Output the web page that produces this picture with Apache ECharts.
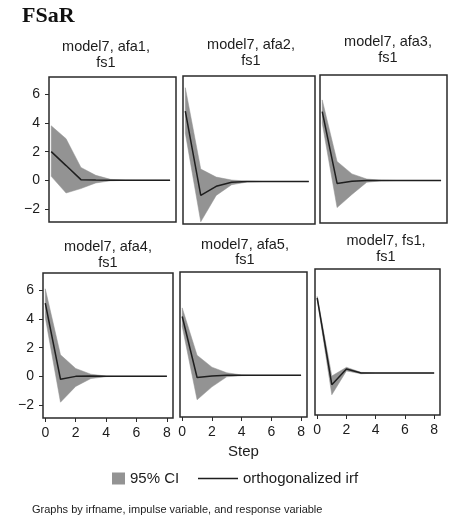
<!DOCTYPE html>
<html>
<head>
<meta charset="utf-8">
<script src="https://cdn.jsdelivr.net/npm/echarts@6/dist/echarts.min.js"></script>
<style>html,body{margin:0;padding:0;background:#fff}#c{width:449px;height:521px}</style>
</head>
<body>
<div id="c"></div>
<script>
const steps = [0, 1, 2, 3, 4, 5, 6, 7, 8];
const yTicks = [-2, 0, 2, 4, 6];
const xTicks = [0, 2, 4, 6, 8];

const panelTitles = [
  ['model7, afa1,', 'fs1'],
  ['model7, afa2,', 'fs1'],
  ['model7, afa3,', 'fs1'],
  ['model7, afa4,', 'fs1'],
  ['model7, afa5,', 'fs1'],
  ['model7, fs1,', 'fs1']
];

const irf_afa1 = [2.0, 1.03, 0.05, 0.02, 0.01, 0.01, 0.01, 0.01, 0.01];
const lo_afa1  = [0.28, -0.88, -0.57, -0.18, -0.03, 0.0, 0.0, 0.0, 0.0];
const hi_afa1  = [3.8, 2.9, 0.9, 0.35, 0.07, 0.02, 0.01, 0.01, 0.01];

const irf_afa2 = [4.8, -0.95, -0.33, -0.05, 0.0, 0.0, 0.0, 0.0, 0.0];
const lo_afa2  = [3.3, -2.75, -0.95, -0.22, -0.04, 0.0, 0.0, 0.0, 0.0];
const hi_afa2  = [6.4, 0.85, 0.3, 0.1, 0.03, 0.0, 0.0, 0.0, 0.0];

const irf_afa3 = [4.7, -0.2, -0.05, 0.0, 0.0, 0.0, 0.0, 0.0, 0.0];
const lo_afa3  = [3.9, -1.85, -0.95, -0.12, -0.02, 0.0, 0.0, 0.0, 0.0];
const hi_afa3  = [5.5, 1.3, 0.45, 0.1, 0.02, 0.0, 0.0, 0.0, 0.0];

const irf_afa4 = [5.1, -0.2, 0.0, 0.02, 0.0, 0.0, 0.0, 0.0, 0.0];
const lo_afa4  = [4.1, -1.8, -0.7, -0.15, -0.02, 0.0, 0.0, 0.0, 0.0];
const hi_afa4  = [6.1, 1.5, 0.55, 0.15, 0.02, 0.0, 0.0, 0.0, 0.0];

const irf_afa5 = [4.1, -0.15, -0.05, 0.0, 0.0, 0.0, 0.0, 0.0, 0.0];
const lo_afa5  = [3.4, -1.7, -0.8, -0.1, -0.02, 0.0, 0.0, 0.0, 0.0];
const hi_afa5  = [4.7, 1.4, 0.57, 0.18, 0.03, 0.0, 0.0, 0.0, 0.0];

const irf_fs1  = [5.2, -0.8, 0.28, 0.0, 0.0, 0.0, 0.0, 0.0, 0.0];
const lo_fs1   = [5.1, -1.5, 0.15, -0.05, 0.0, 0.0, 0.0, 0.0, 0.0];
const hi_fs1   = [5.3, -0.2, 0.4, 0.05, 0.0, 0.0, 0.0, 0.0, 0.0];

const irfs = [irf_afa1, irf_afa2, irf_afa3, irf_afa4, irf_afa5, irf_fs1];
const los  = [lo_afa1, lo_afa2, lo_afa3, lo_afa4, lo_afa5, lo_fs1];
const his  = [hi_afa1, hi_afa2, hi_afa3, hi_afa4, hi_afa5, hi_fs1];

// layout
const grids = [
  {left: 49,  top: 77, width: 127, height: 145},
  {left: 183, top: 76, width: 132, height: 148},
  {left: 320, top: 75, width: 127, height: 148},
  {left: 43,  top: 273, width: 130, height: 145},
  {left: 180, top: 272, width: 127, height: 145},
  {left: 315, top: 269, width: 125, height: 146}
];
const titlePos = [
  [106, 47, 63], [251, 45, 61], [388, 42, 58],
  [108, 247, 263], [245, 245, 260], [386, 241, 257]
];

const FONT = 'Liberation Sans, Arial, sans-serif';
const TXT = '#1c1c1c';
const BAND = '#939393';
const LINE = '#1e1e1e';

const option = {
  animation: false,
  backgroundColor: '#fff',
  grid: grids.map(g => Object.assign({show: true, borderColor: '#2a2a2a', borderWidth: 1.5, backgroundColor: 'transparent'}, g)),
  xAxis: grids.map((g, i) => ({
    type: 'value', gridIndex: i, min: -0.15, max: 8.4, position: 'bottom',
    axisLine: {show: false, onZero: false},
    splitLine: {show: false},
    axisTick: {show: i >= 3, length: 4, customValues: xTicks, lineStyle: {color: '#2a2a2a', width: 1}},
    axisLabel: {show: i >= 3, customValues: xTicks, margin: 8, fontSize: 14, color: TXT, fontFamily: FONT},
    name: i === 4 ? 'Step' : '',
    nameLocation: 'middle', nameGap: 27,
    nameTextStyle: {fontSize: 15, color: TXT, fontFamily: FONT}
  })),
  yAxis: grids.map((g, i) => ({
    type: 'value', gridIndex: i, min: -2.9, max: 7.2, position: 'left',
    axisLine: {show: false, onZero: false},
    splitLine: {show: false},
    axisTick: {show: i === 0 || i === 3, length: 4, customValues: yTicks, lineStyle: {color: '#2a2a2a', width: 1}},
    axisLabel: {show: i === 0 || i === 3, customValues: yTicks, margin: 9, fontSize: 14, color: TXT, fontFamily: FONT,
      formatter: v => String(v).replace('-', '\u2212')}
  })),
  legend: [
    {data: [{name: '95% CI', icon: 'rect'}], left: 112, top: 471, padding: 0, itemWidth: 13, itemHeight: 12,
     textStyle: {fontSize: 15, color: TXT, fontFamily: FONT}, selectedMode: false},
    {data: [{name: 'orthogonalized irf', icon: 'rect'}], left: 198, top: 471, padding: 0, itemWidth: 40, itemHeight: 1.5,
     textStyle: {fontSize: 15, color: TXT, fontFamily: FONT}, selectedMode: false}
  ],
  graphic: [],
  series: []
};

option.graphic.push({type: 'text', left: 22, top: 5, style: {text: 'FSaR', font: 'bold 22px "Liberation Serif", "Times New Roman", serif', fill: '#111'}});
panelTitles.forEach((t, i) => {
  const p = titlePos[i];
  option.graphic.push({type: 'text', x: p[0], y: p[1], style: {text: t[0], align: 'center', verticalAlign: 'middle', font: '14.5px ' + FONT, fill: TXT}});
  option.graphic.push({type: 'text', x: p[0], y: p[2], style: {text: t[1], align: 'center', verticalAlign: 'middle', font: '14.5px ' + FONT, fill: TXT}});
});
option.graphic.push({type: 'text', x: 32, y: 510, style: {text: 'Graphs by irfname, impulse variable, and response variable', verticalAlign: 'middle', font: '11px ' + FONT, fill: TXT}});

function bandRender(params, api) {
  if (params.dataIndex !== 0) return null;
  const n = params.dataInsideLength !== undefined ? params.dataInsideLength : steps.length;
  const upper = [], lower = [];
  for (let k = 0; k < n; k++) {
    const x = api.value(0, k), lo = api.value(1, k), hi = api.value(2, k);
    upper.push(api.coord([x, hi]));
    lower.push(api.coord([x, lo]));
  }
  const pts = upper.concat(lower.reverse());
  return {type: 'polygon', shape: {points: pts}, style: {fill: BAND, stroke: BAND, lineWidth: 0.5}};
}

for (let i = 0; i < 6; i++) {
  const lo = los[i], hi = his[i], irf = irfs[i];
  option.series.push({
    type: 'custom', name: '95% CI', xAxisIndex: i, yAxisIndex: i,
    data: steps.map((s, k) => [s, lo[k], hi[k]]),
    encode: {x: 0, y: [1, 2]},
    renderItem: bandRender, itemStyle: {color: BAND}, silent: true, z: 2, clip: true
  });
  option.series.push({
    type: 'line', name: 'orthogonalized irf', xAxisIndex: i, yAxisIndex: i,
    data: steps.map((s, k) => [s, irf[k]]), symbol: 'none',
    lineStyle: {color: LINE, width: 1.5}, itemStyle: {color: LINE}, silent: true, z: 3
  });
}

const chart = echarts.init(document.getElementById('c'), null, {renderer: 'canvas'});
chart.setOption(option);
</script>
</body>
</html>
